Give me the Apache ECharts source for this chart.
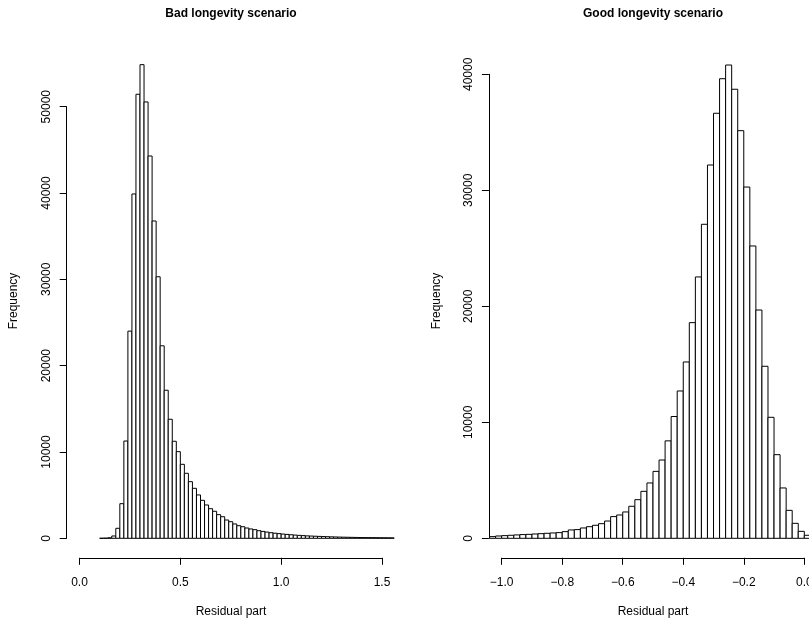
<!DOCTYPE html>
<html>
<head>
<meta charset="utf-8">
<title>Residual part histograms</title>
<script src="https://cdn.jsdelivr.net/npm/echarts@6/dist/echarts.min.js"></script>
<style>
  html, body { margin: 0; padding: 0; background: #fff; }
  #chart { width: 809px; height: 621px; }
</style>
</head>
<body>
<div id="chart"></div>
<script>
// histogram bins (width 0.02), counts
var binWidth = 0.02;

var badFirstBreak = 0.10;
var badCounts = [
  5, 15, 60, 270, 1160, 4010, 11270, 24000, 39890, 51440,
  54870, 50550, 44290, 36760, 30300, 22300, 17150, 13790, 11240, 10040,
  8570, 7530, 6560, 5790, 5020, 4400, 3860, 3430, 3130, 2740,
  2500, 2120, 1920, 1660, 1460, 1340, 1190, 1080, 1000, 880,
  800, 720, 650, 590, 540, 490, 450, 410, 370, 340,
  310, 280, 260, 240, 220, 200, 185, 170, 155, 140,
  130, 120, 110, 100, 90, 85, 80, 75, 70, 65,
  60, 55, 50
];

var goodFirstBreak = -1.04;
var goodCounts = [
  145, 200, 230, 260, 290, 320, 340, 370, 400, 430,
  460, 490, 575, 720, 750, 890, 1000, 1120, 1260, 1490,
  1870, 2010, 2270, 2760, 3330, 4050, 4770, 5770, 6750, 8400,
  10500, 12700, 15200, 18590, 22530, 27070, 32180, 36640, 39620, 40800,
  38710, 35140, 30280, 25200, 19680, 14830, 10430, 7210, 4340, 2410,
  1290, 600, 260
];

// tick values
var badXTicks = [0, 0.5, 1.0, 1.5];
var badYTicks = [0, 10000, 20000, 30000, 40000, 50000];
var goodXTicks = [-1.0, -0.8, -0.6, -0.4, -0.2, 0.0];
var goodYTicks = [0, 10000, 20000, 30000, 40000];

function toBins(first, counts) {
  var out = [];
  counts.forEach(function (c, i) {
    var x0 = +(first + i * binWidth).toFixed(2);
    out.push([x0, +(x0 + binWidth).toFixed(2), c]);
  });
  return out;
}

function renderBar(params, api) {
  var p0 = api.coord([api.value(0), api.value(2)]);
  var p1 = api.coord([api.value(1), 0]);
  return {
    type: 'rect',
    shape: { x: p0[0], y: p0[1], width: p1[0] - p0[0], height: p1[1] - p0[1] },
    style: { fill: '#fff', stroke: '#000', lineWidth: 1 }
  };
}

var font = 'Liberation Sans, Arial, Helvetica, sans-serif';

function fmtX(v) {
  if (Math.abs(v) < 1e-9) v = 0;
  return v.toFixed(1).replace('-', '\u2212');
}

function fmtY(v) {
  return String(Math.round(v));
}

function xAxisOf(idx, ticks) {
  return {
    type: 'value',
    gridIndex: idx,
    min: ticks[0],
    max: ticks[ticks.length - 1],
    interval: ticks[1] - ticks[0],
    offset: 19.5,
    axisLine: { show: true, onZero: false, lineStyle: { color: '#000', width: 1 } },
    axisTick: { show: true, length: 7, lineStyle: { color: '#000' } },
    axisLabel: {
      margin: 19, color: '#000', fontFamily: font, fontSize: 12,
      formatter: fmtX
    },
    splitLine: { show: false }
  };
}

function yAxisOf(idx, ticks) {
  return {
    type: 'value',
    gridIndex: idx,
    position: 'left',
    min: ticks[0],
    max: ticks[ticks.length - 1],
    interval: ticks[1] - ticks[0],
    offset: 12.8,
    axisLine: { show: true, onZero: false, lineStyle: { color: '#000', width: 1 } },
    axisTick: { show: true, length: 7, lineStyle: { color: '#000' } },
    axisLabel: {
      rotate: 90, margin: 14, color: '#000', fontFamily: font, fontSize: 12,
      formatter: fmtY
    },
    splitLine: { show: false }
  };
}

function label(text, x, y, opts) {
  opts = opts || {};
  return {
    type: 'text',
    x: x,
    y: y,
    rotation: opts.rotation || 0,
    style: {
      text: text,
      fill: '#000',
      font: (opts.bold ? 'bold ' : '') + '12px ' + font,
      textAlign: 'center',
      textVerticalAlign: 'middle'
    }
  };
}

var myChart = echarts.init(document.getElementById('chart'));
var option = {
  animation: false,
  backgroundColor: '#fff',
  grid: [
    { left: 79.5, top: 106.7, width: 302.5, height: 431.6, containLabel: false, outerBoundsMode: 'none' },
    { left: 501.7, top: 74.3, width: 302.6, height: 464, containLabel: false, outerBoundsMode: 'none' }
  ],
  xAxis: [xAxisOf(0, badXTicks), xAxisOf(1, goodXTicks)],
  yAxis: [yAxisOf(0, badYTicks), yAxisOf(1, goodYTicks)],
  graphic: [
    label('Bad longevity scenario', 231, 14, { bold: true }),
    label('Good longevity scenario', 653, 14, { bold: true }),
    label('Residual part', 231, 612),
    label('Residual part', 653, 612),
    label('Frequency', 14, 301, { rotation: Math.PI / 2 }),
    label('Frequency', 437, 301, { rotation: Math.PI / 2 })
  ],
  series: [
    {
      type: 'custom',
      xAxisIndex: 0,
      yAxisIndex: 0,
      renderItem: renderBar,
      encode: { x: [0, 1], y: 2 },
      data: toBins(badFirstBreak, badCounts)
    },
    {
      type: 'custom',
      xAxisIndex: 1,
      yAxisIndex: 1,
      renderItem: renderBar,
      encode: { x: [0, 1], y: 2 },
      data: toBins(goodFirstBreak, goodCounts)
    }
  ]
};
myChart.setOption(option, true);
</script>
</body>
</html>
